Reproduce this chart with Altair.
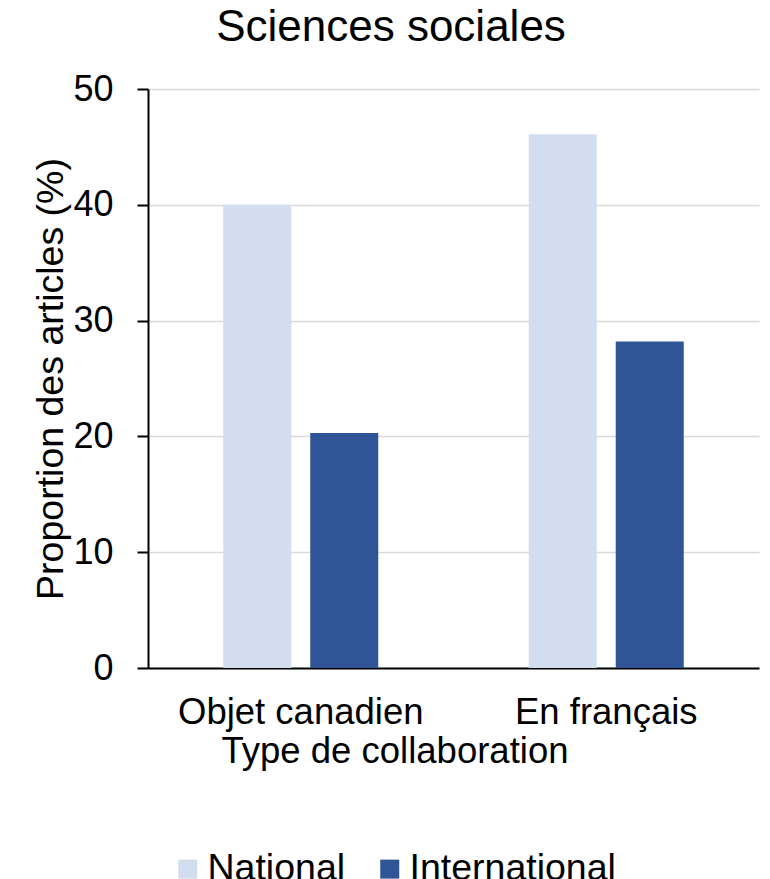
import altair as alt
import pandas as pd

categories = ["Objet canadien", "En français"]
series = ["National", "International"]
national = [40.0, 46.1]
international = [20.3, 28.2]
colors = ["#D2DEF0", "#2F5597"]

rows = []
for i, c in enumerate(categories):
    rows.append({"cat": c, "serie": series[0], "val": national[i]})
    rows.append({"cat": c, "serie": series[1], "val": international[i]})
df = pd.DataFrame(rows)

FONT = "Liberation Sans"
W, H = 611, 579

chart = alt.Chart(df).mark_bar().encode(
    x=alt.X("cat:N", sort=categories,
            scale=alt.Scale(paddingInner=0, paddingOuter=0),
            axis=alt.Axis(ticks=False, tickSize=0, domainColor="black", domainWidth=2,
                          labelFontSize=36.5, labelPadding=55, labelBaseline="alphabetic",
                          labelAngle=0, labelColor="black", labelLimit=0,
                          title="Type de collaboration", titleFontSize=36.5,
                          titleFontWeight="normal", titleColor="black",
                          titleX=246.5, titleY=94, titleBaseline="alphabetic",
                          titleAlign="center")),
    xOffset=alt.XOffset("serie:N", sort=series,
                        scale=alt.Scale(paddingInner=0.218, paddingOuter=0.865)),
    y=alt.Y("val:Q", scale=alt.Scale(domain=[0, 50], nice=False),
            axis=alt.Axis(values=[0, 10, 20, 30, 40, 50], tickSize=11, tickColor="black",
                          tickWidth=2, domainColor="black", domainWidth=2,
                          labelFontSize=36, labelPadding=24, labelColor="black",
                          gridColor="#d9d9d9", gridWidth=1.5,
                          title="Proportion des articles (%)", titleFontSize=37.5,
                          titleFontWeight="normal", titleColor="black", titleLimit=0,
                          titleX=-86, titleY=H / 2, titleBaseline="alphabetic",
                          titleAlign="center", titleAngle=-90)),
    color=alt.Color("serie:N", sort=series,
                    scale=alt.Scale(domain=series, range=colors),
                    legend=alt.Legend(orient="none", legendX=21, legendY=761,
                                      direction="horizontal", title=None,
                                      symbolType="square", symbolSize=361,
                                      symbolStrokeWidth=0, labelFontSize=37.5,
                                      labelColor="black", columnPadding=25,
                                      labelOffset=1, padding=0, labelLimit=0)),
).properties(
    width=W, height=H,
    title=alt.TitleParams("Sciences sociales", fontSize=44, fontWeight="normal",
                          color="black", anchor="middle", dx=-62.5,
                          baseline="top", offset=21),
    autosize=alt.AutoSizeParams(type="none"),
    padding={"left": 140, "top": 81, "right": 3, "bottom": 211},
).configure(font=FONT, background="white").configure_view(stroke=None)

chart.save("out.html", embed_options={"renderer": "svg", "actions": False})
